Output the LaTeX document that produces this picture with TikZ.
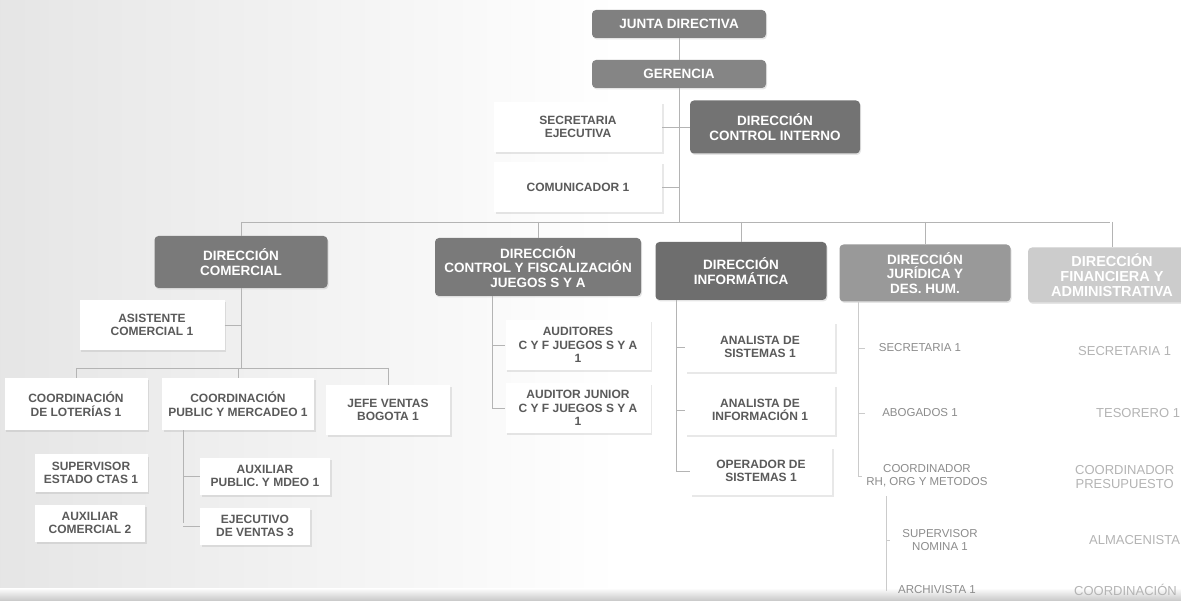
\documentclass[tikz,border=0pt]{standalone}
\usepackage{fontspec}
\setmainfont{Liberation Sans}
\usetikzlibrary{shadows}
\definecolor{lc}{HTML}{B4B4B4}
\definecolor{txt}{HTML}{5A5A5A}
\definecolor{faint}{HTML}{8C8C8C}
\definecolor{faintr}{HTML}{B4B4B4}
\tikzset{
  dirbox/.style={rounded corners=4pt, fill=#1, text=white, align=center,
    font=\bfseries\fontsize{13.5}{14.5}\selectfont, inner sep=2pt,
    drop shadow={opacity=0.2, shadow xshift=1pt, shadow yshift=-1.5pt}},
  posbox/.style={fill=white, text=txt, align=center,
    font=\bfseries\fontsize{12}{13.5}\selectfont, inner sep=2pt,
    drop shadow={opacity=0.18, shadow xshift=1.5pt, shadow yshift=-2pt}},
  plainbox/.style={text=#1, align=center, font=\fontsize{11.5}{13}\selectfont, inner sep=2pt},
  finbox/.style={text=faintr, align=center, font=\fontsize{13}{14}\selectfont, inner sep=2pt, anchor=west},
  ln/.style={draw=lc, line width=0.8pt},
}
\begin{document}
\begin{tikzpicture}[x=1pt,y=-1pt]
\useasboundingbox (0,0) rectangle (1181,601);
\begin{scope}
\clip (0,0) rectangle (1181,601);
\shade[left color=black!10, right color=white] (0,0) rectangle (620,601);
\fill[white] (620,0) rectangle (1181,601);
\shade[top color=white, bottom color=black!22] (0,588) rectangle (1181,601);

% top
\node[dirbox=black!50, minimum width=174, minimum height=28] (junta) at (679,24) {JUNTA DIRECTIVA};
\node[dirbox=black!48, minimum width=174, minimum height=28] (ger) at (679,74) {GERENCIA};
\node[posbox, minimum width=168, minimum height=50] (secej) at (578,127) {SECRETARIA\\EJECUTIVA};
\node[dirbox=black!55, minimum width=170, minimum height=53] (ctrl) at (775,127) {DIRECCIÓN\\CONTROL INTERNO};
\node[posbox, minimum width=168, minimum height=50] (comun) at (578,187) {COMUNICADOR 1};

\coordinate (trunk) at (679,222);
\coordinate (busL) at (241,222);
\coordinate (busR) at (1110,222);

% direcciones
\node[dirbox=black!52, minimum width=173, minimum height=52] (dcom) at (241,262) {DIRECCIÓN\\COMERCIAL};
\node[dirbox=black!52, minimum width=206, minimum height=58] (dfis) at (538,267) {DIRECCIÓN\\CONTROL Y FISCALIZACIÓN\\JUEGOS S Y A};
\node[dirbox=black!57, minimum width=171, minimum height=58] (dinf) at (741,271) {DIRECCIÓN\\INFORMÁTICA};
\node[dirbox=black!40, minimum width=171, minimum height=57] (djur) at (925,273) {DIRECCIÓN\\JURÍDICA Y\\DES. HUM.};
\node[dirbox=black!20, minimum width=168, minimum height=55, font=\bfseries\fontsize{14.5}{15}\selectfont] (dfin) at (1112,275) {DIRECCIÓN\\FINANCIERA Y\\ADMINISTRATIVA};

% trunk connectors
\draw[ln] (junta.south) -- (ger.north);
\draw[ln] (ger.south) -- (trunk);
\draw[ln] (secej.east) -- (secej.east -| trunk);
\draw[ln] (ctrl.west) -- (ctrl.west -| trunk);
\draw[ln] (comun.east) -- (comun.east -| trunk);
\draw[ln] (busL) -- (busR);
\foreach \d in {dcom,dfis,dinf,djur,dfin}{
  \draw[ln] (\d.north |- trunk) -- (\d.north);
}

% comercial
\node[posbox, minimum width=145, minimum height=50] (asis) at (152,325) {ASISTENTE\\COMERCIAL 1};
\node[posbox, minimum width=143, minimum height=52] (clot) at (76,404) {COORDINACIÓN\\DE LOTERÍAS 1};
\node[posbox, minimum width=152, minimum height=52] (cpub) at (238,404) {COORDINACIÓN\\PUBLIC Y MERCADEO 1};
\node[posbox, minimum width=124, minimum height=50] (jefe) at (388,410) {JEFE VENTAS\\BOGOTA 1};
\node[posbox, minimum width=113, minimum height=37] (sup) at (91,473) {SUPERVISOR\\ESTADO CTAS 1};
\node[posbox, minimum width=110, minimum height=37] (auxc) at (90,523) {AUXILIAR\\COMERCIAL 2};
\node[posbox, minimum width=130, minimum height=37] (auxp) at (265,476) {AUXILIAR\\PUBLIC. Y MDEO 1};
\node[posbox, minimum width=110, minimum height=37] (ejec) at (255,526) {EJECUTIVO\\DE VENTAS 3};
\coordinate (cbus) at (241,368);
\coordinate (cpubd) at (183,523);
\draw[ln] (dcom.south) -- (cbus);
\draw[ln] (asis.east) -- (asis.east -| cbus);
\draw[ln] (clot.north |- cbus) -- (jefe.north |- cbus);
\draw[ln] (clot.north |- cbus) -- (clot.north);
\draw[ln] (cpub.north |- cbus) -- (cpub.north);
\draw[ln] (jefe.north |- cbus) -- (jefe.north);
\draw[ln] (cpub.south -| cpubd) -- (cpubd);
\draw[ln] (auxp.west -| cpubd) -- (auxp.west);
\draw[ln] (ejec.west -| cpubd) -- (ejec.west);

% fiscalizacion
\node[posbox, minimum width=145, minimum height=50] (aud1) at (578,345) {AUDITORES\\C Y F JUEGOS S Y A\\1};
\node[posbox, minimum width=145, minimum height=50] (aud2) at (578,408) {AUDITOR JUNIOR\\C Y F JUEGOS S Y A\\1};
\coordinate (fisd) at (492,408);
\draw[ln] (dfis.south -| fisd) -- (fisd);
\draw[ln] (aud1.west -| fisd) -- (aud1.west);
\draw[ln] (aud2.west -| fisd) -- (aud2.west);

% informatica
\node[posbox, minimum width=150, minimum height=50] (an1) at (760,347) {ANALISTA DE\\SISTEMAS 1};
\node[posbox, minimum width=150, minimum height=50] (an2) at (760,410) {ANALISTA DE\\INFORMACIÓN 1};
\node[posbox, minimum width=142, minimum height=48] (op) at (761,471) {OPERADOR DE\\SISTEMAS 1};
\coordinate (infd) at (676,471);
\draw[ln] (dinf.south -| infd) -- (infd);
\draw[ln] (an1.west -| infd) -- (an1.west);
\draw[ln] (an2.west -| infd) -- (an2.west);
\draw[ln] (infd) -- (op.west);

% juridica
\node[plainbox=faint, minimum width=110, minimum height=40] (sec1) at (920,348) {SECRETARIA 1};
\node[plainbox=faint, minimum width=110, minimum height=40] (abog) at (920,413) {ABOGADOS 1};
\node[plainbox=faint, minimum width=130, minimum height=40] (crh) at (927,476) {COORDINADOR\\RH, ORG Y METODOS};
\node[plainbox=faint, minimum width=100, minimum height=40] (snom) at (940,540) {SUPERVISOR\\NOMINA 1};
\node[plainbox=faint, minimum width=100, minimum height=30] (arch) at (937,590) {ARCHIVISTA 1};
\coordinate (jurd) at (858,476);
\coordinate (crhd) at (886,590);
\draw[ln, draw=lc!70] (djur.south -| jurd) -- (jurd);
\draw[ln, draw=lc!70] (sec1.west -| jurd) -- (sec1.west);
\draw[ln, draw=lc!70] (abog.west -| jurd) -- (abog.west);
\draw[ln, draw=lc!70] (jurd) -- (crh.west);
\draw[ln, draw=lc!70] (crh.south -| crhd) -- (crhd);
\draw[ln, draw=lc!70] (snom.west -| crhd) -- (snom.west);
\draw[ln, draw=lc!70] (crhd) -- (arch.west);

% financiera
\node[finbox] (fsec) at (1076,351) {SECRETARIA 1};
\node[finbox] (ftes) at (1094,413) {TESORERO 1};
\node[finbox] (fcoo) at (1073,477) {COORDINADOR\\PRESUPUESTO};
\node[finbox] (falm) at (1087,540) {ALMACENISTA};
\node[finbox] (fcn) at (1072,590) {COORDINACIÓN};
\end{scope}
\end{tikzpicture}
\end{document}
